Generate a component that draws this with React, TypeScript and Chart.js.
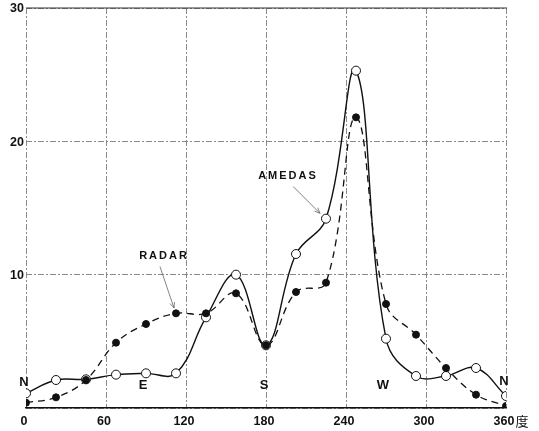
import React, { useEffect, useRef } from "react";
import { Chart, registerables } from "chart.js";
Chart.register(...registerables);

// Wind direction (degrees)
const directions = [0, 22.5, 45, 67.5, 90, 112.5, 135, 157.5, 180, 202.5, 225, 247.5, 270, 292.5, 315, 337.5, 360];
// AMEDAS (open circles, solid line)
const amedas = [1.1, 2.1, 2.15, 2.5, 2.6, 2.6, 6.8, 10.0, 4.7, 11.55, 14.2, 25.3, 5.2, 2.4, 2.4, 3.0, 0.9];
// RADAR (filled circles, dashed line)
const radar = [0.4, 0.8, 2.1, 4.9, 6.3, 7.1, 7.1, 8.6, 4.7, 8.7, 9.4, 21.8, 7.8, 5.5, 3.0, 1.0, 0.15];

const xTicks = [0, 60, 120, 180, 240, 300, 360];
const yTicks = [10, 20, 30];
const xUnit = "度";

// compass labels: [text, direction, value]
const compassLabels: [string, number, number][] = [
  ["N", -1.5, 1.9],
  ["E", 87.75, 1.7],
  ["S", 178.5, 1.7],
  ["W", 267.75, 1.7],
  ["N", 358.5, 2.0],
];
// series labels: [text, direction, value, arrowFromDir, arrowFromVal, arrowToDir, arrowToVal]
const seriesLabels: [string, number, number, number, number, number, number][] = [
  ["AMEDAS", 195.75, 17.4, 200.5, 16.6, 220.5, 14.6],
  ["RADAR", 102.75, 11.4, 100.5, 10.6, 111, 7.5],
];

const FONT = '"Liberation Sans", Arial, Helvetica, sans-serif';

const annotPlugin = {
  id: "annot",
  afterDatasetsDraw(chart: any) {
    const { ctx, chartArea, scales } = chart;
    const x = scales.x;
    const y = scales.y;
    ctx.save();
    // top border solid
    ctx.strokeStyle = "#333";
    ctx.lineWidth = 1.2;
    ctx.setLineDash([]);
    ctx.beginPath();
    ctx.moveTo(chartArea.left, y.getPixelForValue(30));
    ctx.lineTo(chartArea.right + 1, y.getPixelForValue(30));
    ctx.stroke();

    // x tick labels
    ctx.fillStyle = "#111";
    ctx.font = `bold 12.5px ${FONT}`;
    ctx.textBaseline = "middle";
    xTicks.forEach((v) => {
      const px = x.getPixelForValue(v);
      const label = String(v);
      ctx.textAlign = "center";
      ctx.fillText(label, px - 2, chartArea.bottom + 14);
      if (v === 360) {
        const w = ctx.measureText("360").width;
        ctx.textAlign = "left";
        ctx.font = `13px "Noto Sans CJK JP", sans-serif`;
        ctx.fillText(xUnit, px - 2 + w / 2 + 1, chartArea.bottom + 13);
        ctx.font = `bold 12.5px ${FONT}`;
      }
    });
    // y tick labels
    ctx.textAlign = "right";
    yTicks.forEach((v) => {
      ctx.fillText(String(v), chartArea.left - 2, y.getPixelForValue(v) + 1);
    });

    // compass labels
    ctx.font = `bold 13px ${FONT}`;
    ctx.textAlign = "center";
    compassLabels.forEach(([t, d, val]) => {
      ctx.fillText(t, x.getPixelForValue(d), y.getPixelForValue(val));
    });

    // series labels with arrows
    ctx.font = `bold 11px ${FONT}`;
    (ctx as any).letterSpacing = "2px";
    seriesLabels.forEach(([t, d, val, fd, fv, td, tv]) => {
      ctx.fillText(t, x.getPixelForValue(d) + 1, y.getPixelForValue(val));
      const x1 = x.getPixelForValue(fd), y1 = y.getPixelForValue(fv);
      const x2 = x.getPixelForValue(td), y2 = y.getPixelForValue(tv);
      ctx.strokeStyle = "#666";
      ctx.lineWidth = 0.8;
      ctx.beginPath();
      ctx.moveTo(x1, y1);
      ctx.lineTo(x2, y2);
      ctx.stroke();
      const ang = Math.atan2(y2 - y1, x2 - x1);
      const L = 6;
      ctx.beginPath();
      ctx.moveTo(x2 - L * Math.cos(ang - 0.4), y2 - L * Math.sin(ang - 0.4));
      ctx.lineTo(x2, y2);
      ctx.lineTo(x2 - L * Math.cos(ang + 0.4), y2 - L * Math.sin(ang + 0.4));
      ctx.stroke();
    });
    (ctx as any).letterSpacing = "0px";
    ctx.restore();
  },
};

export default function App() {
  const ref = useRef<HTMLCanvasElement | null>(null);
  useEffect(() => {
    if (!ref.current) return;
    const chart = new Chart(ref.current, {
      type: "line",
      data: {
        datasets: [
          {
            label: "RADAR",
            data: directions.map((d, i) => ({ x: d, y: radar[i] })),
            borderColor: "#111",
            borderWidth: 1.3,
            borderDash: [7, 5],
            tension: 0.4,
            pointRadius: 3.5,
            pointBackgroundColor: "#111",
            pointBorderColor: "#111",
            pointBorderWidth: 1,
            fill: false,
            order: 0,
          },
          {
            label: "AMEDAS",
            data: directions.map((d, i) => ({ x: d, y: amedas[i] })),
            borderColor: "#111",
            borderWidth: 1.4,
            tension: 0.4,
            pointRadius: 4.5,
            pointBackgroundColor: "#fff",
            pointBorderColor: "#111",
            pointBorderWidth: 1,
            fill: false,
            order: 1,
          },
        ],
      },
      options: {
        animation: false,
        responsive: false,
        maintainAspectRatio: false,
        layout: { padding: { top: 8, right: 33, bottom: 0, left: 0 } },
        plugins: { legend: { display: false }, tooltip: { enabled: false } },
        scales: {
          x: {
            type: "linear",
            min: 0,
            max: 360,
            ticks: { stepSize: 60, display: false },
            grid: { color: "#8a8a8a", lineWidth: 1, drawTicks: false },
            border: { display: true, color: "#111", width: 1.5, dash: [6, 2, 2, 2] },
            afterFit: (s: any) => {
              s.height = 23;
            },
          },
          y: {
            min: 0,
            max: 30,
            ticks: { stepSize: 10, display: false },
            grid: { color: "#8a8a8a", lineWidth: 1, drawTicks: false },
            border: { display: false, dash: [6, 2, 2, 2] },
            afterFit: (s: any) => {
              s.width = 26;
            },
          },
        },
      },
      plugins: [annotPlugin],
    });
    return () => chart.destroy();
  }, []);
  return (
    <div style={{ position: "absolute", left: 0, top: 0, width: 539, height: 431, background: "#fff" }}>
      <canvas ref={ref} width={539} height={431} style={{ display: "block" }} />
    </div>
  );
}
